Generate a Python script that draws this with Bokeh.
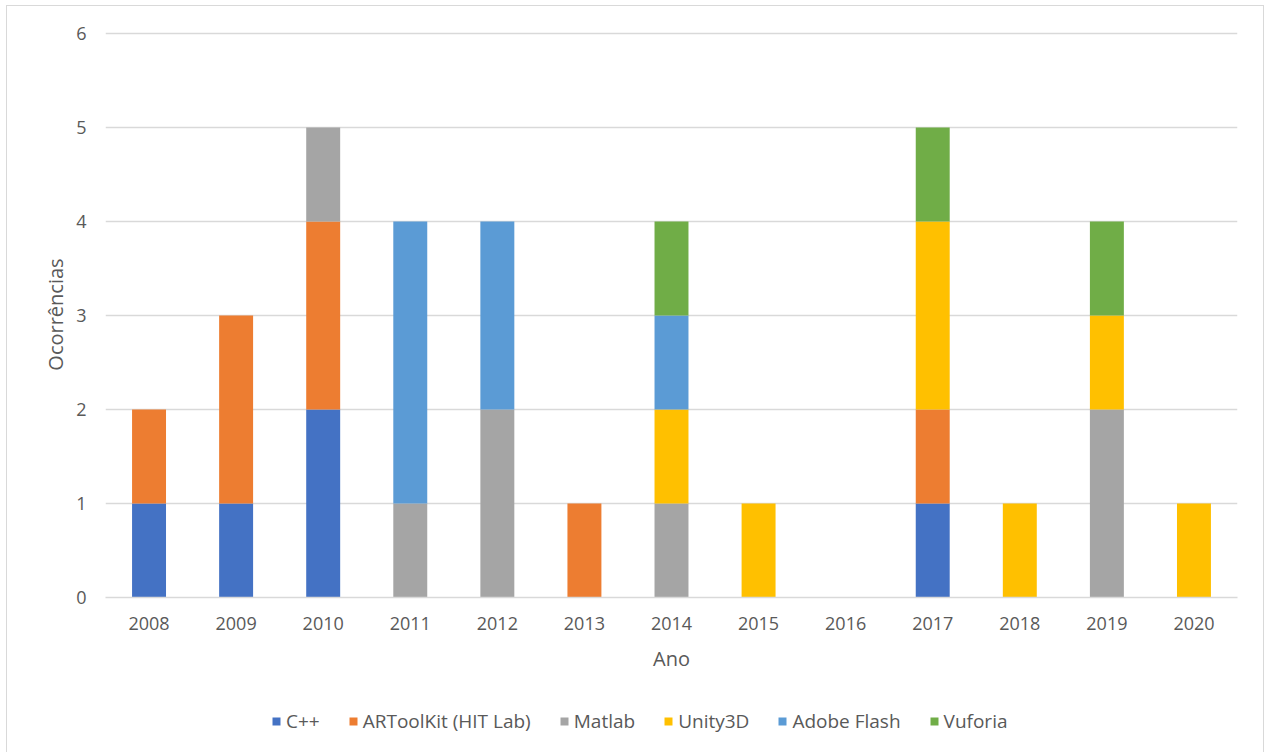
from bokeh.plotting import figure
from bokeh.layouts import column
from bokeh.models import Legend, LegendItem, FactorRange, Range1d, FixedTicker
from bokeh.embed import file_html
from bokeh.resources import INLINE

years = ["2008", "2009", "2010", "2011", "2012", "2013", "2014",
         "2015", "2016", "2017", "2018", "2019", "2020"]
y_ticks = [0, 1, 2, 3, 4, 5, 6]
series_names = ["C++", "ARToolKit (HIT Lab)", "Matlab", "Unity3D", "Adobe Flash", "Vuforia"]
cpp = [1, 1, 2, 0, 0, 0, 0, 0, 0, 1, 0, 0, 0]
artoolkit = [1, 2, 2, 0, 0, 1, 0, 0, 0, 1, 0, 0, 0]
matlab = [0, 0, 1, 1, 2, 0, 1, 0, 0, 0, 0, 2, 0]
unity3d = [0, 0, 0, 0, 0, 0, 1, 1, 0, 2, 1, 1, 1]
adobe_flash = [0, 0, 0, 3, 2, 0, 1, 0, 0, 0, 0, 0, 0]
vuforia = [0, 0, 0, 0, 0, 0, 1, 0, 0, 1, 0, 1, 0]
colors = ["#4472C4", "#ED7D31", "#A5A5A5", "#FFC000", "#5B9BD5", "#70AD47"]

keys = ["cpp", "artoolkit", "matlab", "unity3d", "adobe_flash", "vuforia"]
data = dict(years=years, cpp=cpp, artoolkit=artoolkit, matlab=matlab,
            unity3d=unity3d, adobe_flash=adobe_flash, vuforia=vuforia)

FONT = "Open Sans"
TXT = "#595959"

p = figure(x_range=FactorRange(*years, range_padding=0), y_range=Range1d(0, 6.02),
           width=1256, height=680, output_backend="svg", toolbar_location=None,
           min_border_left=98, min_border_right=26, min_border_top=25, min_border_bottom=89)
p.outline_line_color = None

renderers = p.vbar_stack(keys, x="years", width=0.39, color=colors, line_color=None, source=data)

p.xgrid.grid_line_color = None
p.ygrid.grid_line_color = "#d9d9d9"
p.ygrid.grid_line_width = 1.3
p.yaxis.ticker = FixedTicker(ticks=y_ticks)
p.yaxis.axis_line_color = None
p.yaxis.major_tick_line_color = None
p.yaxis.minor_tick_line_color = None
p.xaxis.axis_line_color = "#d9d9d9"
p.xaxis.axis_line_width = 1.3
p.xaxis.major_tick_line_color = None
for ax in (p.xaxis[0], p.yaxis[0]):
    ax.major_label_text_font = FONT
    ax.major_label_text_font_size = "18px"
    ax.major_label_text_color = TXT
    ax.axis_label_text_font = FONT
    ax.axis_label_text_font_size = "20px"
    ax.axis_label_text_color = TXT
    ax.axis_label_text_font_style = "normal"
p.xaxis.major_label_standoff = 13
p.yaxis.major_label_standoff = 13
p.xaxis.axis_label = "Ano"
p.yaxis.axis_label = "Ocorrências"
p.xaxis.axis_label_standoff = 12
p.yaxis.axis_label_standoff = 4

# legend strip below the chart (placeholder renderers carry only the legend swatches)
p2 = figure(width=1256, height=70, output_backend="svg", toolbar_location=None,
            x_axis_type=None, y_axis_type=None, x_range=Range1d(0, 1), y_range=Range1d(0, 1),
            min_border=0, min_border_left=0, min_border_right=0, min_border_top=0, min_border_bottom=0)
p2.outline_line_color = None
p2.xgrid.visible = False
p2.ygrid.visible = False
nan = float("nan")
dummies = [p2.vbar(x=[nan], top=[nan], width=0.5, color=c, line_color=None) for c in colors]
items = [LegendItem(label=n, renderers=[r]) for n, r in zip(series_names, dummies)]
legend = Legend(items=items, orientation="horizontal", location=(166, 22),
                glyph_width=10, glyph_height=10, label_standoff=5, spacing=28,
                label_text_font=FONT, label_text_font_size="19px", label_text_color=TXT,
                border_line_color=None, background_fill_alpha=0, padding=0, margin=0)
p2.add_layout(legend, "center")

layout = column(p, p2, spacing=0)
layout.styles = {"border": "1px solid #d9d9d9", "margin-left": "6px", "margin-top": "5px",
                 "background-color": "white"}

open("out.html", "w").write(file_html(layout, INLINE))
